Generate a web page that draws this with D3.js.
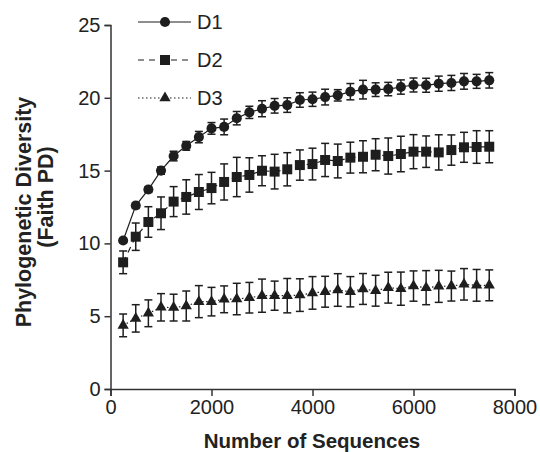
<!DOCTYPE html>
<html><head><meta charset="utf-8">
<script src="https://cdn.jsdelivr.net/npm/d3@7"></script>
<style>body{margin:0;background:#fff}svg{display:block}text{font-family:"Liberation Sans",Arial,Helvetica,sans-serif}</style>
</head><body><svg id="c" width="540" height="452"></svg>
<script>
const seqs = [250,500,750,1000,1250,1500,1750,2000,2250,2500,2750,3000,3250,3500,3750,4000,4250,4500,4750,5000,5250,5500,5750,6000,6250,6500,6750,7000,7250,7500];
const D1 = [10.2,12.6,13.7,15.0,16.0,16.7,17.3,17.9,18.0,18.6,19.0,19.25,19.45,19.5,19.85,19.9,20.05,20.17,20.42,20.56,20.56,20.6,20.74,20.88,20.86,20.97,21.02,21.13,21.13,21.2];
const D1err = [0.15,0.2,0.2,0.25,0.33,0.3,0.39,0.4,0.54,0.46,0.42,0.55,0.5,0.5,0.5,0.49,0.54,0.39,0.56,0.64,0.47,0.46,0.49,0.48,0.48,0.52,0.52,0.54,0.48,0.53];
const D2 = [8.7,10.46,11.47,12.07,12.87,13.19,13.53,13.8,14.22,14.56,14.7,14.99,14.93,15.09,15.38,15.45,15.73,15.66,15.89,15.95,16.09,16.0,16.14,16.3,16.3,16.25,16.41,16.6,16.62,16.64];
const D2err = [0.78,0.94,1.05,1.12,1.03,1.18,1.2,1.08,1.24,1.35,1.18,1.03,1.19,1.14,1.04,1.09,1.14,1.16,1.06,1.1,1.1,1.24,1.22,1.17,1.08,1.21,1.04,1.03,1.12,1.1];
const D3 = [4.37,4.85,5.2,5.61,5.59,5.7,6.0,6.0,6.16,6.18,6.27,6.41,6.41,6.41,6.45,6.6,6.68,6.8,6.68,6.87,6.75,6.96,6.89,7.07,6.96,7.05,7.07,7.19,7.12,7.12];
const D3err = [0.78,0.94,0.92,0.94,0.92,1.03,1.1,0.98,0.92,1.08,1.05,1.14,1.0,1.18,1.12,1.12,1.06,1.12,1.04,1.06,1.06,1.06,1.14,1.04,1.17,1.1,1.03,1.08,1.09,1.06];
const seriesNames = ["D1","D2","D3"];
const xTicks = [0,2000,4000,6000,8000];
const yTicks = [0,5,10,15,20,25];
const xTitle = "Number of Sequences";
const yTitle1 = "Phylogenetic Diversity";
const yTitle2 = "(Faith PD)";

const series = [
  {name:seriesNames[0], vals:D1, err:D1err, dash:null, sym:d3.symbolCircle, size:80},
  {name:seriesNames[1], vals:D2, err:D2err, dash:"6,5", sym:d3.symbolSquare, size:100},
  {name:seriesNames[2], vals:D3, err:D3err, dash:"1.5,2.5", sym:d3.symbolTriangle, size:55}
];

const svg = d3.select("#c");
const x = d3.scaleLinear().domain([0,8000]).range([110.5,514.5]);
const y = d3.scaleLinear().domain([0,25]).range([389,25]);
const ink = "#1e1e1e";

// axes
const gx = svg.append("g").attr("transform","translate(0,389)")
  .call(d3.axisBottom(x).tickValues(xTicks).tickSize(7).tickPadding(4).tickFormat(d3.format("d")));
const gy = svg.append("g").attr("transform","translate(110.5,0)")
  .call(d3.axisLeft(y).tickValues(yTicks).tickSize(6).tickPadding(4));
[gx,gy].forEach(g=>{
  g.select(".domain").attr("stroke","#333").attr("stroke-width",1.5);
  g.selectAll(".tick line").attr("stroke","#333").attr("stroke-width",1.5);
  g.selectAll(".tick text").attr("fill","#222").style("font-size","20px").style("font-family","'Liberation Sans',Arial,sans-serif");
});

// titles
svg.append("text").attr("x",312).attr("y",448).attr("text-anchor","middle")
  .style("font-size","20.5px").style("font-weight","bold").attr("fill","#222").text(xTitle);
svg.append("text").attr("transform","translate(31,212) rotate(-90)").attr("text-anchor","middle")
  .style("font-size","21.5px").style("font-weight","bold").attr("fill","#222").text(yTitle1);
svg.append("text").attr("transform","translate(52.5,197) rotate(-90)").attr("text-anchor","middle")
  .style("font-size","21.5px").style("font-weight","bold").attr("fill","#222").text(yTitle2);

const line = d3.line().x(d=>x(d[0])).y(d=>y(d[1]));

series.forEach(s=>{
  const pts = seqs.map((v,i)=>[v,s.vals[i],s.err[i]]);
  const g = svg.append("g");
  g.append("path").datum(pts).attr("d",line).attr("fill","none")
    .attr("stroke",ink).attr("stroke-width",1.2).attr("stroke-dasharray",s.dash);
  const eb = g.selectAll(".eb").data(pts).enter().append("g").attr("stroke",ink).attr("stroke-width",1.5);
  eb.append("line").attr("x1",d=>x(d[0])).attr("x2",d=>x(d[0])).attr("y1",d=>y(d[1]-d[2])).attr("y2",d=>y(d[1]+d[2]));
  eb.append("line").attr("x1",d=>x(d[0])-4).attr("x2",d=>x(d[0])+4).attr("y1",d=>y(d[1]+d[2])).attr("y2",d=>y(d[1]+d[2]));
  eb.append("line").attr("x1",d=>x(d[0])-4).attr("x2",d=>x(d[0])+4).attr("y1",d=>y(d[1]-d[2])).attr("y2",d=>y(d[1]-d[2]));
  g.selectAll(".m").data(pts).enter().append("path")
    .attr("d",d3.symbol().type(s.sym).size(s.size))
    .attr("transform",d=>`translate(${x(d[0])},${y(d[1])})`).attr("fill",ink);
});

// legend
const legY = [22,60,98];
series.forEach((s,i)=>{
  const g = svg.append("g").attr("transform",`translate(0,${legY[i]})`);
  g.append("line").attr("x1",138).attr("x2",191).attr("y1",0).attr("y2",0)
    .attr("stroke",ink).attr("stroke-width",1.2).attr("stroke-dasharray",s.dash);
  g.append("path").attr("d",d3.symbol().type(s.sym).size(s.size)).attr("transform","translate(165,0)").attr("fill",ink);
  g.append("text").attr("x",197).attr("y",7).style("font-size","20px").attr("fill","#222").text(s.name);
});
</script></body></html>
